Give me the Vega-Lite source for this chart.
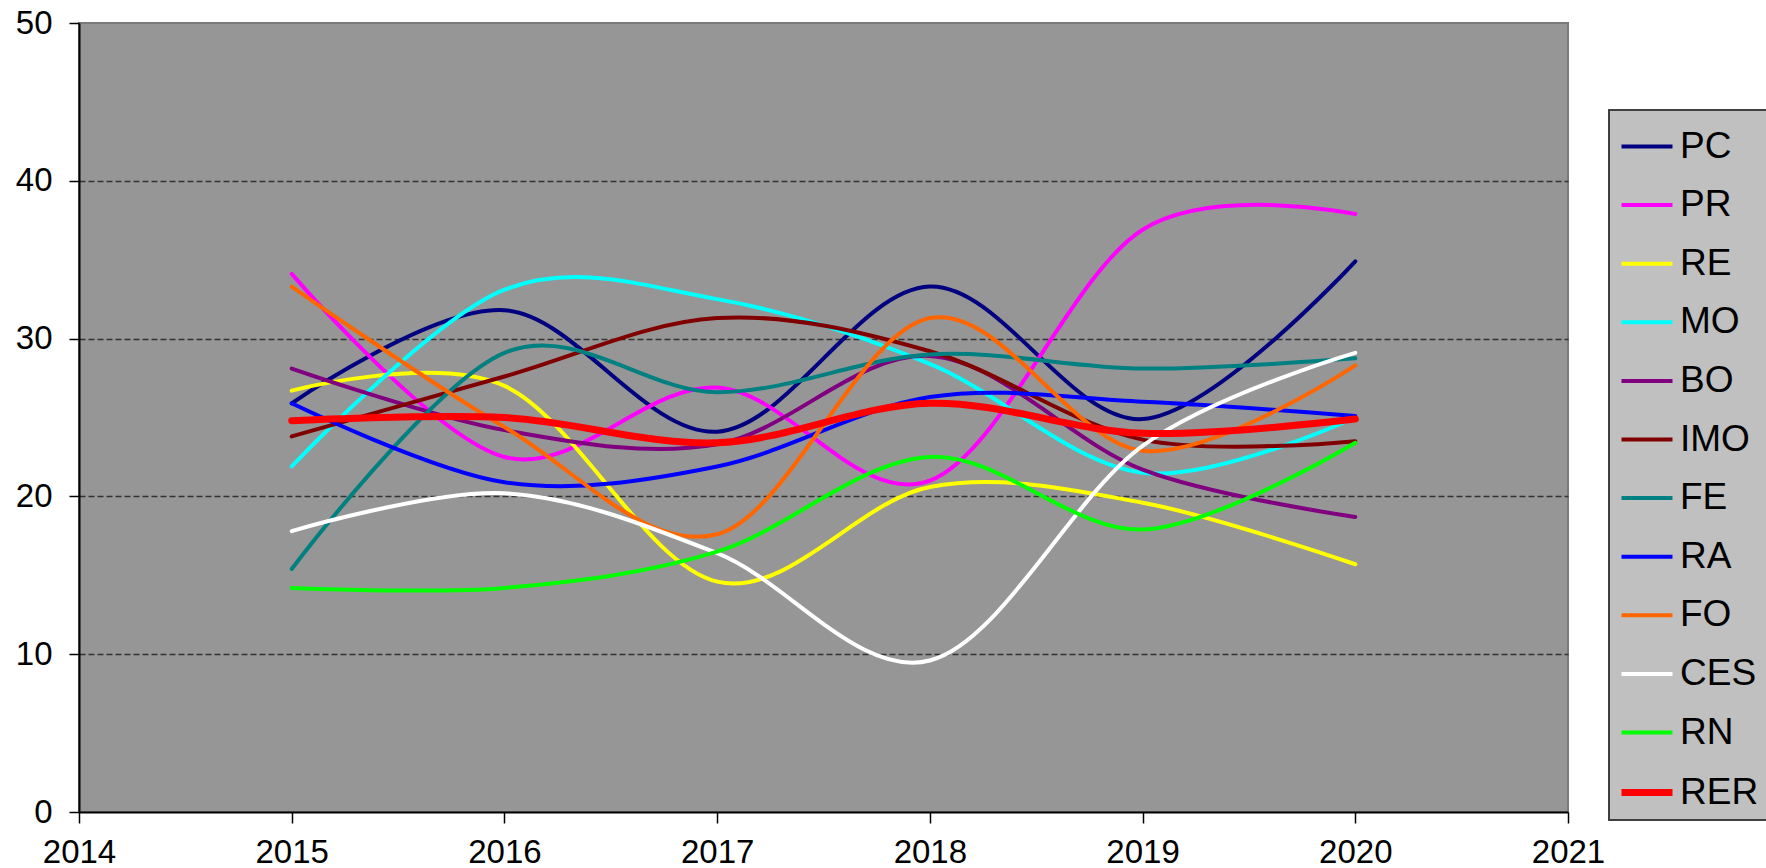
{
  "$schema": "https://vega.github.io/schema/vega-lite/v6.json",
  "width": 1489,
  "height": 789,
  "autosize": {"type": "none"},
  "padding": {"left": 79, "top": 23, "right": 198, "bottom": 56},
  "background": "white",
  "config": {
    "font": "Liberation Sans",
    "view": {"fill": "#969696", "stroke": "#7a7a7a", "strokeWidth": 2},
    "legend": {"strokeWidth": 2}
  },
  "data": {
    "values": [
      {"series": "PC", "year": 2015, "value": 25.9}, {"series": "PC", "year": 2016, "value": 31.8}, {"series": "PC", "year": 2017, "value": 24.1}, {"series": "PC", "year": 2018, "value": 33.3}, {"series": "PC", "year": 2019, "value": 24.9}, {"series": "PC", "year": 2020, "value": 34.9},
      {"series": "PR", "year": 2015, "value": 34.1}, {"series": "PR", "year": 2016, "value": 22.5}, {"series": "PR", "year": 2017, "value": 26.9}, {"series": "PR", "year": 2018, "value": 21.0}, {"series": "PR", "year": 2019, "value": 36.9}, {"series": "PR", "year": 2020, "value": 37.9},
      {"series": "RE", "year": 2015, "value": 26.7}, {"series": "RE", "year": 2016, "value": 27.0}, {"series": "RE", "year": 2017, "value": 14.6}, {"series": "RE", "year": 2018, "value": 20.6}, {"series": "RE", "year": 2019, "value": 19.6}, {"series": "RE", "year": 2020, "value": 15.7},
      {"series": "MO", "year": 2015, "value": 21.9}, {"series": "MO", "year": 2016, "value": 33.1}, {"series": "MO", "year": 2017, "value": 32.5}, {"series": "MO", "year": 2018, "value": 28.4}, {"series": "MO", "year": 2019, "value": 21.5}, {"series": "MO", "year": 2020, "value": 25.0},
      {"series": "BO", "year": 2015, "value": 28.1}, {"series": "BO", "year": 2016, "value": 24.2}, {"series": "BO", "year": 2017, "value": 23.3}, {"series": "BO", "year": 2018, "value": 28.9}, {"series": "BO", "year": 2019, "value": 21.7}, {"series": "BO", "year": 2020, "value": 18.7},
      {"series": "IMO", "year": 2015, "value": 23.8}, {"series": "IMO", "year": 2016, "value": 27.6}, {"series": "IMO", "year": 2017, "value": 31.3}, {"series": "IMO", "year": 2018, "value": 29.2}, {"series": "IMO", "year": 2019, "value": 23.6}, {"series": "IMO", "year": 2020, "value": 23.5},
      {"series": "FE", "year": 2015, "value": 15.4}, {"series": "FE", "year": 2016, "value": 29.1}, {"series": "FE", "year": 2017, "value": 26.6}, {"series": "FE", "year": 2018, "value": 29.0}, {"series": "FE", "year": 2019, "value": 28.1}, {"series": "FE", "year": 2020, "value": 28.75},
      {"series": "RA", "year": 2015, "value": 25.9}, {"series": "RA", "year": 2016, "value": 20.9}, {"series": "RA", "year": 2017, "value": 21.9}, {"series": "RA", "year": 2018, "value": 26.3}, {"series": "RA", "year": 2019, "value": 26.0}, {"series": "RA", "year": 2020, "value": 25.1},
      {"series": "FO", "year": 2015, "value": 33.3}, {"series": "FO", "year": 2016, "value": 24.4}, {"series": "FO", "year": 2017, "value": 17.6}, {"series": "FO", "year": 2018, "value": 31.3}, {"series": "FO", "year": 2019, "value": 22.9}, {"series": "FO", "year": 2020, "value": 28.3},
      {"series": "CES", "year": 2015, "value": 17.8}, {"series": "CES", "year": 2016, "value": 20.2}, {"series": "CES", "year": 2017, "value": 16.4}, {"series": "CES", "year": 2018, "value": 9.6}, {"series": "CES", "year": 2019, "value": 23.2}, {"series": "CES", "year": 2020, "value": 29.1},
      {"series": "RN", "year": 2015, "value": 14.2}, {"series": "RN", "year": 2016, "value": 14.2}, {"series": "RN", "year": 2017, "value": 16.5}, {"series": "RN", "year": 2018, "value": 22.5}, {"series": "RN", "year": 2019, "value": 17.9}, {"series": "RN", "year": 2020, "value": 23.4},
      {"series": "RER", "year": 2015, "value": 24.8}, {"series": "RER", "year": 2016, "value": 25.0}, {"series": "RER", "year": 2017, "value": 23.4}, {"series": "RER", "year": 2018, "value": 25.9}, {"series": "RER", "year": 2019, "value": 24.0}, {"series": "RER", "year": 2020, "value": 24.9}
    ]
  },
  "mark": {"type": "line", "interpolate": "cardinal", "strokeCap": "round", "strokeJoin": "round"},
  "encoding": {
    "x": {
      "field": "year", "type": "quantitative",
      "scale": {"domain": [2014, 2021], "nice": false, "zero": false},
      "axis": {
        "values": [2014, 2015, 2016, 2017, 2018, 2019, 2020, 2021], "format": "d", "title": null, "grid": false,
        "labelFontSize": 33, "labelColor": "black", "labelFlush": false, "labelPadding": 13,
        "domainColor": "black", "domainWidth": 2, "tickColor": "black", "tickSize": 11, "tickWidth": 1.5
      }
    },
    "y": {
      "field": "value", "type": "quantitative",
      "scale": {"domain": [0, 50], "nice": false, "zero": true},
      "axis": {
        "values": [0, 10, 20, 30, 40, 50], "title": null, "grid": true,
        "gridDash": [6, 3], "gridColor": "#333333", "gridWidth": 1.5,
        "gridOpacity": {"condition": {"test": "datum.value == 0 || datum.value == 50", "value": 0}, "value": 1},
        "labelFontSize": 33, "labelColor": "black", "labelPadding": 17,
        "domainColor": "black", "domainWidth": 2, "tickColor": "black", "tickSize": 10, "tickWidth": 1.5
      }
    },
    "color": {
      "field": "series", "type": "nominal",
      "sort": ["PC", "PR", "RE", "MO", "BO", "IMO", "FE", "RA", "FO", "CES", "RN", "RER"],
      "scale": {
        "type": "ordinal",
        "domain": ["PC", "PR", "RE", "MO", "BO", "IMO", "FE", "RA", "FO", "CES", "RN", "RER"],
        "range": ["#000080", "#ff00ff", "#ffff00", "#00ffff", "#800080", "#800000", "#008080", "#0000ff", "#ff6600", "#ffffff", "#00ff00", "#ff0000"]
      },
      "legend": {
        "title": null, "orient": "none", "legendX": 1530, "legendY": 87,
        "fillColor": "#c0c0c0", "strokeColor": "#404040", "padding": 9,
        "symbolType": "stroke", "symbolSize": 2601, "labelFontSize": 37, "labelColor": "black",
        "labelOffset": 4, "rowPadding": 12.6
      }
    },
    "strokeWidth": {
      "field": "series", "type": "nominal",
      "sort": ["PC", "PR", "RE", "MO", "BO", "IMO", "FE", "RA", "FO", "CES", "RN", "RER"],
      "scale": {
        "type": "ordinal",
        "domain": ["PC", "PR", "RE", "MO", "BO", "IMO", "FE", "RA", "FO", "CES", "RN", "RER"],
        "range": [4, 4, 4, 4, 4, 4, 4, 4, 4, 4, 4, 7]
      },
      "legend": {
        "title": null, "orient": "none", "legendX": 1530, "legendY": 87,
        "fillColor": "#c0c0c0", "strokeColor": "#404040", "padding": 9,
        "symbolType": "stroke", "symbolSize": 2601, "labelFontSize": 37, "labelColor": "black",
        "labelOffset": 4, "rowPadding": 12.6
      }
    }
  }
}
